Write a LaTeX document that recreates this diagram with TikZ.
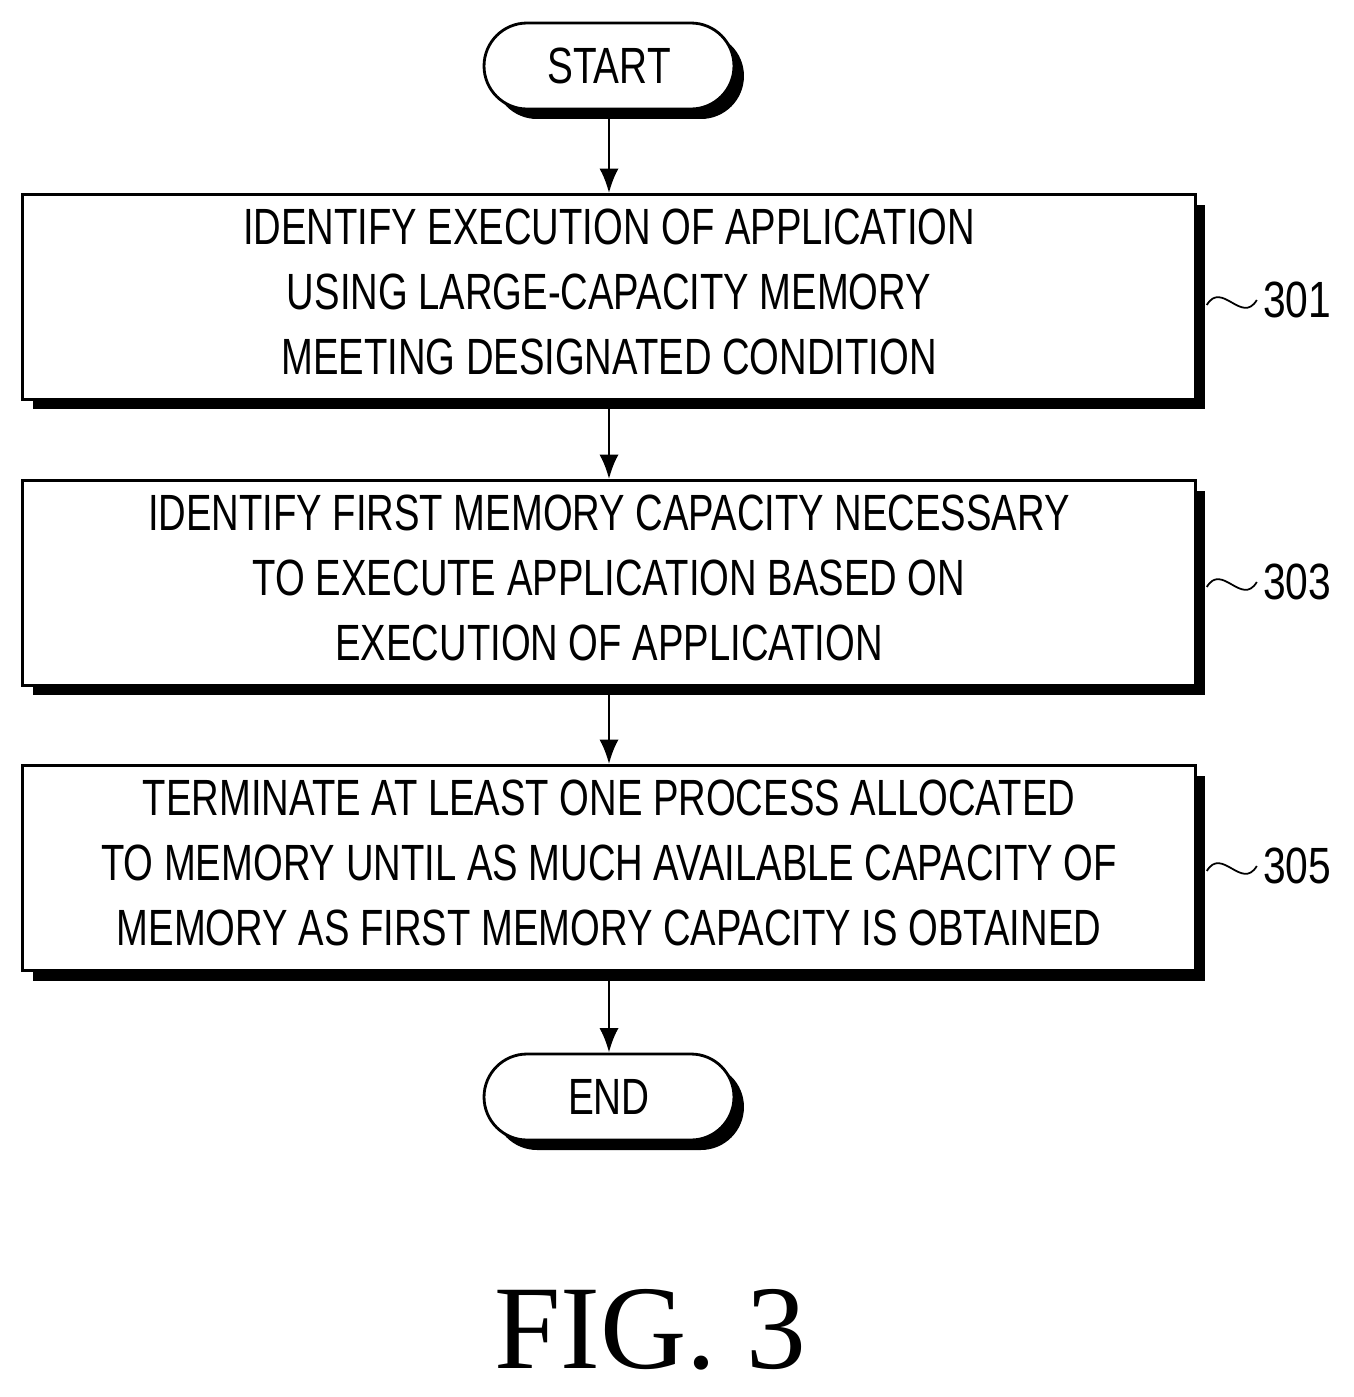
\documentclass[tikz,border=0pt]{standalone}
\usepackage{fontspec}
\setmainfont{Liberation Sans}
\newfontfamily\figfont{Liberation Serif}
\usetikzlibrary{positioning,shadows,calc,arrows.meta}

\begin{document}
\begin{tikzpicture}[x=0.02cm,y=-0.02cm]
        \tikzstyle{block} = [rectangle, draw, fill=white, line width=1.6pt,
                             minimum width=23.45cm, minimum height=3.97cm,
                             align=center, font=\fontsize{29}{36}\selectfont,
                             drop shadow={shadow xshift=0.2cm, shadow yshift=-0.2cm,
                                          fill=black, opacity=1}]
        \tikzstyle{term} = [block, rounded corners=0.86cm,
                            minimum width=5cm, minimum height=1.72cm]
        \tikzstyle{arrow} = [draw, -{Latex[length=14pt,width=11pt]}, line width=1.6pt]
        \tikzstyle{tag} = [font=\fontsize{29}{36}\selectfont]
        \useasboundingbox (0,0) rectangle (1354,1397);
        \node[term] (start) at (609,66) {\scalebox{0.76}[1]{START}};
        \node[block] (ident) at (609,297)
          {\scalebox{0.75}[1]{\begin{tabular}{c}IDENTIFY EXECUTION OF APPLICATION\\[1pt]
           USING LARGE-CAPACITY MEMORY\\[1pt] MEETING DESIGNATED CONDITION\end{tabular}}};
        \node[block] (capa) at (609,583)
          {\scalebox{0.75}[1]{\begin{tabular}{c}IDENTIFY FIRST MEMORY CAPACITY NECESSARY\\[1pt]
           TO EXECUTE APPLICATION BASED ON\\[1pt] EXECUTION OF APPLICATION\end{tabular}}};
        \node[block] (term) at (609,868)
          {\scalebox{0.75}[1]{\begin{tabular}{c}TERMINATE AT LEAST ONE PROCESS ALLOCATED\\[1pt]
           TO MEMORY UNTIL AS MUCH AVAILABLE CAPACITY OF\\[1pt]
           MEMORY AS FIRST MEMORY CAPACITY IS OBTAINED\end{tabular}}};
        \node[term] (end) at (609,1097) {\scalebox{0.76}[1]{END}};
        \path[arrow] (start) -- (ident);
        \path[arrow] (ident) -- (capa);
        \path[arrow] (capa) -- (term);
        \path[arrow] (term) -- (end);
        % step numbers
        \node[tag] (s301) at (1297,300) {\scalebox{0.8}[1]{301}};
        \node[tag] (s303) at (1297,582) {\scalebox{0.8}[1]{303}};
        \node[tag] (s305) at (1297,866) {\scalebox{0.8}[1]{305}};
        \foreach \s in {s301,s303,s305}
          \draw[line width=1pt] ($(\s.west)+(-50,5)$) .. controls +(15,-25) and +(-15,25) .. (\s.west);
        \node[font=\figfont\fontsize{68}{72}\selectfont] (fig) at (650,1330) {FIG. 3};
\end{tikzpicture}
\end{document}
